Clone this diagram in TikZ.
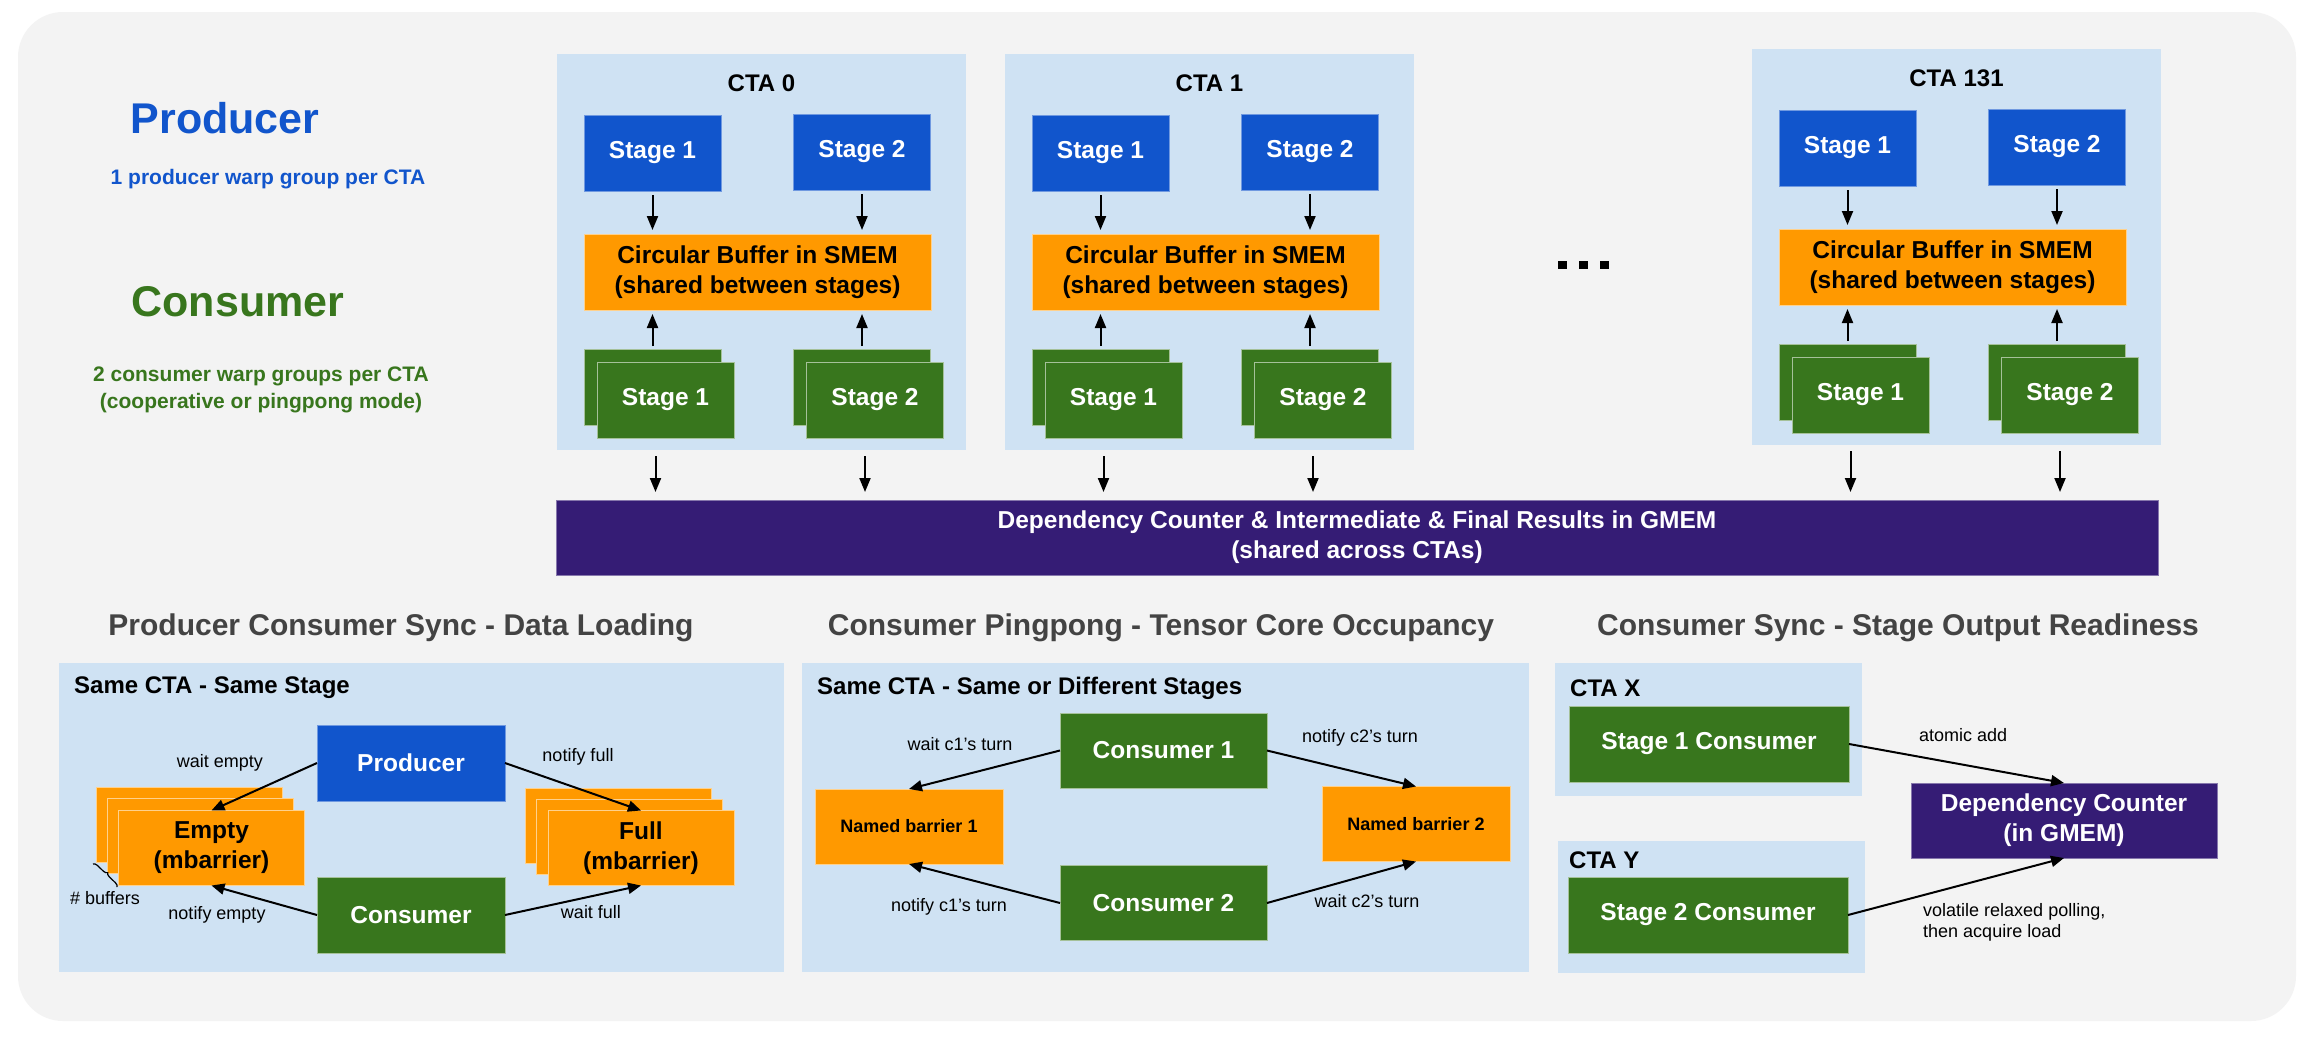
\documentclass[tikz,border=0pt]{standalone}
\usepackage{fontspec}
\setmainfont{Liberation Sans}
\usetikzlibrary{arrows.meta,calc,decorations.pathreplacing}
\definecolor{bgc}{HTML}{F3F3F3}
\definecolor{panelc}{HTML}{CFE2F3}
\definecolor{bluec}{HTML}{1155CC}
\definecolor{greenc}{HTML}{38761D}
\definecolor{orangec}{HTML}{FF9900}
\definecolor{purplec}{HTML}{351C75}
\definecolor{titlec}{HTML}{434343}
\begin{document}
\begin{tikzpicture}[x=1pt,y=-1pt,
  bx/.style={inner sep=0pt,outer sep=0pt,align=center,line width=1pt,
    font=\fontsize{24.5}{30}\selectfont\bfseries},
  bluebox/.style={bx,fill=bluec,draw=bluec!60!white,text=white},
  greenbox/.style={bx,fill=greenc,draw=greenc!45!white,text=white},
  orangebox/.style={bx,fill=orangec,draw=orangec!45!white,text=black},
  purplebox/.style={bx,fill=purplec,draw=purplec!60!white,text=white},
  panel/.style={fill=panelc,inner sep=0pt,outer sep=0pt},
  lbl/.style={font=\fontsize{18}{21}\selectfont,inner sep=0pt,text=black,align=left},
  sub/.style={font=\fontsize{24}{30}\selectfont\bfseries,inner sep=0pt,text=black},
  ttl/.style={font=\fontsize{30}{36}\selectfont\bfseries,inner sep=0pt,text=titlec},
  arr/.style={-{Triangle[length=13pt,width=11pt]},line width=2pt},
  sarr/.style={-{Triangle[length=14pt,width=11pt]},line width=2pt},
  stg/.style={minimum width=137pt,minimum height=76pt}
]
\useasboundingbox (0,0) rectangle (2318,1036);
\fill[white] (0,0) rectangle (2318,1036);
\fill[bgc,rounded corners=45pt] (18,12) rectangle (2296,1021);

% left labels
\node[inner sep=0pt,text=bluec,font=\fontsize{43}{50}\selectfont\bfseries] (prodT) at (225,118) {Producer};
\node[inner sep=0pt,text=bluec,font=\fontsize{21}{27}\selectfont\bfseries] (prodS) at (268,179) {1 producer warp group per CTA};
\node[inner sep=0pt,text=greenc,font=\fontsize{43}{50}\selectfont\bfseries] (consT) at (238,302) {Consumer};
\node[inner sep=0pt,text=greenc,align=center,font=\fontsize{21}{27}\selectfont\bfseries] (consS) at (261,390) {2 consumer warp groups per CTA\\(cooperative or pingpong mode)};

% GMEM bar
\node[purplebox,minimum width=1602pt,minimum height=75pt] (gmem) at (1357,537.5)
  {Dependency Counter \& Intermediate \& Final Results in GMEM\\(shared across CTAs)};

% CTAs
\foreach \nm/\ox/\oy/\lab in {a/557/54/CTA 0,b/1005/54/CTA 1,c/1752/49/CTA 131}{
  \begin{scope}[shift={(\ox,\oy)}]
    \node[panel,minimum width=409pt,minimum height=396pt] (\nm-cta) at (204.5,198) {};
    \node[sub] (\nm-lab) at (204.5,29) {\lab};
    \node[bluebox,stg] (\nm-s1) at (95.5,99) {Stage 1};
    \node[bluebox,stg] (\nm-s2) at (305,98) {Stage 2};
    \node[orangebox,minimum width=347pt,minimum height=76pt] (\nm-buf) at (200.5,218)
      {Circular Buffer in SMEM\\(shared between stages)};
    \node[greenbox,stg] (\nm-c1b) at (95.5,333) {};
    \node[greenbox,stg] (\nm-c1) at (108.5,346) {Stage 1};
    \node[greenbox,stg] (\nm-c2b) at (305,333) {};
    \node[greenbox,stg] (\nm-c2) at (318,346) {Stage 2};
    \draw[sarr,shorten <=4pt,shorten >=4pt] (\nm-s1.south) -- (\nm-s1.south |- \nm-buf.north);
    \draw[sarr,shorten <=4pt,shorten >=4pt] (\nm-s2.south) -- (\nm-s2.south |- \nm-buf.north);
    \draw[sarr,shorten <=3pt,shorten >=4pt] (\nm-c1b.north) -- (\nm-c1b.north |- \nm-buf.south);
    \draw[sarr,shorten <=3pt,shorten >=4pt] (\nm-c2b.north) -- (\nm-c2b.north |- \nm-buf.south);
    \draw[sarr,shorten <=6pt,shorten >=8pt] ($(\nm-cta.south -| \nm-c1b.center)+(3,0)$) -- ($(gmem.north -| \nm-c1b.center)+(3,0)$);
    \draw[sarr,shorten <=6pt,shorten >=8pt] ($(\nm-cta.south -| \nm-c2b.center)+(3,0)$) -- ($(gmem.north -| \nm-c2b.center)+(3,0)$);
  \end{scope}
}
% dots
\fill[black] (1558,261) rectangle (1567,269);
\fill[black] (1579,261) rectangle (1588,269);
\fill[black] (1600,261) rectangle (1609,269);

% ---------- bottom left ----------
\node[ttl] (t1) at (401,628) {Producer Consumer Sync - Data Loading};
\node[panel,minimum width=725pt,minimum height=309pt] (p1) at (421.5,817.5) {};
\node[sub,anchor=west] (p1lab) at (74,688) {Same CTA - Same Stage};
\node[bluebox,minimum width=188pt,minimum height=76pt] (prod) at (411,763) {Producer};
\node[greenbox,minimum width=188pt,minimum height=76pt] (cons) at (411,915) {Consumer};
\node[orangebox,minimum width=186pt,minimum height=75pt] (emptyA) at (189,824.5) {};
\node[orangebox,minimum width=186pt,minimum height=75pt] (emptyB) at (200,836) {};
\node[orangebox,minimum width=186pt,minimum height=75pt] (emptyC) at (211.5,848) {Empty\\(mbarrier)};
\node[orangebox,minimum width=186pt,minimum height=75pt] (fullA) at (618,825.5) {};
\node[orangebox,minimum width=186pt,minimum height=75pt] (fullB) at (629.5,836.5) {};
\node[orangebox,minimum width=186pt,minimum height=75pt] (fullC) at (641,848) {Full\\(mbarrier)};
\draw[arr] (prod.west) -- (emptyC.north);
\draw[arr] (prod.east) -- (fullC.north);
\draw[arr] (cons.west) -- (emptyC.south);
\draw[arr] (cons.east) -- (fullC.south);
\node[lbl] (l1) at (220,763) {wait empty};
\node[lbl] (l2) at (578,757) {notify full};
\node[lbl] (l3) at (217,915) {notify empty};
\node[lbl] (l4) at (591,912) {wait full};
\coordinate (brA) at (93,864);
\coordinate (brB) at (117,887);
\draw[line width=1.2pt,decorate,decoration={brace,amplitude=4pt}] (brA) -- (brB);
\node[lbl] (l5) at (105,898) {\# buffers};

% ---------- bottom middle ----------
\node[ttl] (t2) at (1161,628) {Consumer Pingpong - Tensor Core Occupancy};
\node[panel,minimum width=727pt,minimum height=309pt] (p2) at (1165.5,817.5) {};
\node[sub,anchor=west] (p2lab) at (817,688) {Same CTA - Same or Different Stages};
\node[greenbox,minimum width=207pt,minimum height=75pt] (c1) at (1163.5,750.5) {Consumer 1};
\node[greenbox,minimum width=207pt,minimum height=75pt] (c2) at (1163.5,903) {Consumer 2};
\node[orangebox,minimum width=188pt,minimum height=75pt,font=\fontsize{18}{21}\selectfont\bfseries] (nb1) at (909,826.5) {Named barrier 1};
\node[orangebox,minimum width=188pt,minimum height=75pt,font=\fontsize{18}{21}\selectfont\bfseries] (nb2) at (1416,824) {Named barrier 2};
\draw[arr] (c1.west) -- (nb1.north);
\draw[arr] (c1.east) -- (nb2.north);
\draw[arr] (c2.west) -- (nb1.south);
\draw[arr] (c2.east) -- (nb2.south);
\node[lbl] (m1) at (960,744) {wait c1’s turn};
\node[lbl] (m2) at (1360,738) {notify c2’s turn};
\node[lbl] (m3) at (949,907) {notify c1’s turn};
\node[lbl] (m4) at (1367,901) {wait c2’s turn};

% ---------- bottom right ----------
\node[ttl] (t3) at (1898,628) {Consumer Sync - Stage Output Readiness};
\node[panel,minimum width=307pt,minimum height=133pt] (px) at (1708.5,729.5) {};
\node[panel,minimum width=307pt,minimum height=132pt] (py) at (1711.5,907) {};
\node[sub,anchor=west] (pxl) at (1570,688) {CTA X};
\node[sub,anchor=west] (pyl) at (1569,860) {CTA Y};
\node[greenbox,minimum width=280pt,minimum height=76pt] (s1c) at (1709,744) {Stage 1 Consumer};
\node[greenbox,minimum width=280pt,minimum height=76pt] (s2c) at (1708,915) {Stage 2 Consumer};
\node[purplebox,minimum width=306pt,minimum height=75pt] (dc) at (2064,820.5) {Dependency Counter\\(in GMEM)};
\draw[arr] (s1c.east) -- (dc.north);
\draw[arr] (s2c.east) -- (dc.south);
\node[lbl,anchor=west] (r1) at (1919,735) {atomic add};
\node[lbl,anchor=west] (r2) at (1923,922) {volatile relaxed polling,\\then acquire load};
\end{tikzpicture}
\end{document}
